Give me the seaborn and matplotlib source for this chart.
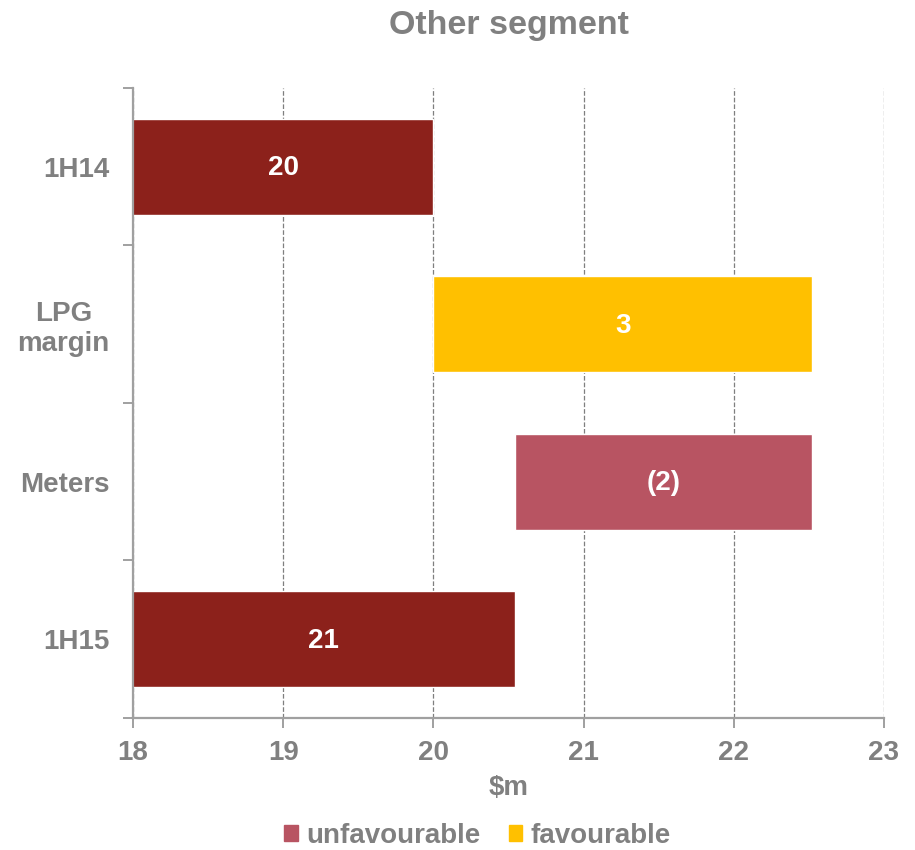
import matplotlib
matplotlib.use("Agg")
import matplotlib.pyplot as plt
import numpy as np
import seaborn as sns
from matplotlib.patches import Patch

categories = ["1H14", "LPG\nmargin", "Meters", "1H15"]
starts = [0.0, 20.0, 20.54, 0.0]
ends = [20.0, 22.52, 22.52, 20.54]
labels = ["20", "3", "(2)", "21"]
kinds = ["total", "favourable", "unfavourable", "total"]

colours = {"total": "#8C211B", "favourable": "#FFC000", "unfavourable": "#B85462"}
grey = "#808080"

sns.set_theme(style="white")
plt.rcParams["font.family"] = ["Liberation Sans", "DejaVu Sans"]
plt.rcParams["font.weight"] = "bold"

fig = plt.figure(figsize=(9.15, 8.5), dpi=100)
ax = fig.add_axes([0.1454, 0.1553, 0.8207, 0.7412])

y = np.arange(len(categories))
widths = [e - s for s, e in zip(starts, ends)]
ax.barh(y, widths, left=starts, height=0.61,
        color=[colours[k] for k in kinds], zorder=2)

for yi, s, e, lab in zip(y, starts, ends, labels):
    mid = (max(s, 18) + e) / 2
    ax.text(mid, yi + 0.01, lab, ha="center", va="center", color="white",
            fontsize=20, fontweight="bold", zorder=3)

ax.set_xlim(18, 23)
ax.set_ylim(len(categories) - 0.5, -0.5)
ax.set_xticks(np.arange(18, 24, 1))
ax.set_yticks(y)
ax.set_yticklabels(categories, multialignment="center")
ax.set_yticks(np.arange(-0.5, len(categories), 1), minor=True)

ax.grid(axis="x", which="major", linestyle="--", color="#7F7F7F",
        linewidth=0.9, zorder=0)
ax.grid(axis="y", visible=False)

for side in ["top", "right"]:
    ax.spines[side].set_visible(False)
for side in ["left", "bottom"]:
    ax.spines[side].set_color("#A0A0A0")
    ax.spines[side].set_linewidth(1.6)

ax.tick_params(axis="y", which="major", length=0, pad=17,
               labelsize=20, labelcolor=grey)
ax.tick_params(axis="y", which="minor", left=True, length=7,
               width=1.4, color="#A0A0A0")
ax.tick_params(axis="x", which="major", bottom=True, length=7, width=1.4,
               color="#A0A0A0", labelsize=20, labelcolor=grey, pad=9)

ax.set_xlabel("$m", fontsize=20, fontweight="bold", color=grey, labelpad=6)
ax.set_title("Other segment", fontsize=24.5, fontweight="bold",
             color=grey, pad=39)

handles = [Patch(color=colours["unfavourable"], label="unfavourable"),
           Patch(color=colours["favourable"], label="favourable")]
fig.legend(handles=handles, loc="center", bbox_to_anchor=(0.522, 0.017),
           ncol=2, frameon=False, handlelength=0.5, handleheight=0.5,
           handletextpad=0.3, columnspacing=1.0, borderpad=0,
           prop={"size": 20, "weight": "bold"}, labelcolor=grey)

fig.savefig("out.png", dpi=100)
